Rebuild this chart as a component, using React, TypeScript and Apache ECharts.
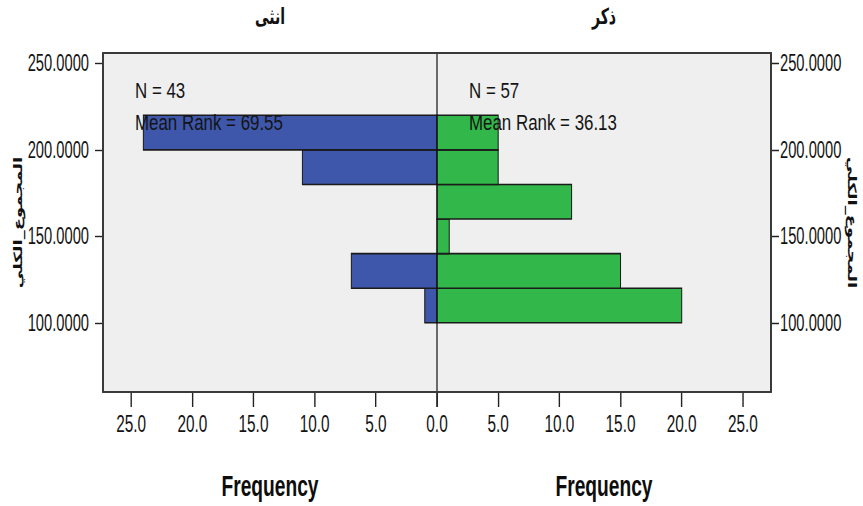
import React, { useEffect, useRef } from "react";
import * as echarts from "echarts";

// Bin lower/upper edges of المجموع_الكلي (width 20)
const binStarts = [100, 120, 140, 160, 180, 200];
const binEnds = [120, 140, 160, 180, 200, 220];
// Frequencies per bin
const femaleCounts = [1, 7, 0, 0, 11, 24]; // انثى (left)
const maleCounts = [20, 15, 1, 11, 5, 5]; // ذكر (right)

const groupTitles = ["انثى", "ذكر"];
const groupStats = [
  ["N = 43", "Mean Rank = 69.55"],
  ["N = 57", "Mean Rank = 36.13"],
];
const yTickValues = [100, 150, 200, 250];
const axisName = "المجموع_الكلي";
const xName = "Frequency";

// horizontal squeeze of the whole picture (narrow SPSS look)
const S = 0.64;
const W = 863;
const H = 506;
const IW = W / S;
const X = (px: number) => px / S;

const PLOT_L = 103;
const PLOT_MID = 437;
const PLOT_R = 771;
const PLOT_T = 53;
const PLOT_B = 392;

const BLUE = "#3e57aa";
const GREEN = "#32b74a";
const LAT = "'Liberation Sans', Arial, sans-serif";
const AR = "'DejaVu Sans', 'Noto Sans', sans-serif";
const INK = "#141414";

function makeData(counts: number[]) {
  return binStarts.map((s, i) => [s, binEnds[i], counts[i]]);
}

function renderBar(color: string) {
  return (params: any, api: any) => {
    const lo = api.value(0);
    const hi = api.value(1);
    const c = api.value(2);
    if (!c) return null;
    const p0 = api.coord([0, lo]);
    const p1 = api.coord([c, hi]);
    const x = Math.min(p0[0], p1[0]);
    const y = Math.min(p0[1], p1[1]);
    return {
      type: "rect",
      shape: { x, y, width: Math.abs(p1[0] - p0[0]), height: Math.abs(p1[1] - p0[1]) },
      style: { fill: color, stroke: "#1b1b1b", lineWidth: 1.6 },
    };
  };
}

export default function App() {
  const ref = useRef<HTMLDivElement>(null);
  useEffect(() => {
    if (!ref.current) return;
    const chart = echarts.init(ref.current, null, { renderer: "svg" });
    const plotH = PLOT_B - PLOT_T;
    const xLabel = {
      color: INK,
      fontFamily: LAT,
      fontSize: 24,
      margin: 20,
      formatter: (v: number) => v.toFixed(1),
    };
    const xBase = {
      type: "value",
      min: 0,
      max: 27.3,
      interval: 5,
      splitLine: { show: false },
      axisLine: { show: false, onZero: false },
      axisTick: { show: true, length: 15, lineStyle: { color: "#222", width: 1.4 / S } },
      name: xName,
      nameLocation: "middle",
      nameGap: 78,
      nameTextStyle: { fontFamily: LAT, fontSize: 30, fontWeight: "bold", color: "#0d0d0d" },
    };
    const yBase = {
      type: "value",
      min: 60,
      max: 256,
      splitLine: { show: false },
      axisLine: { show: false, onZero: false },
      axisTick: {
        show: true,
        length: X(8),
        customValues: yTickValues,
        lineStyle: { color: "#222", width: 1.4 },
      },
      axisLabel: {
        color: INK,
        fontFamily: LAT,
        fontSize: 23,
        customValues: yTickValues,
        formatter: (v: number) => v.toFixed(4),
      },
      name: axisName,
      nameLocation: "middle",
      nameTextStyle: { fontFamily: AR, fontSize: 18, fontWeight: "bold", color: "#111" },
    };
    const statText = (x: number, lines: string[]) =>
      lines.map((t, i) => ({
        type: "text",
        x: X(x),
        y: 79 + i * 32,
        scaleX: 1.2,
        z: 100,
        style: {
          text: t,
          fontFamily: LAT,
          fontSize: 22,
          fill: INK,
          verticalAlign: "top",
          align: "left",
        },
      }));
    const titleText = (cx: number, t: string) => ({
      type: "text",
      x: X(cx),
      y: 5,
      z: 100,
      style: {
        text: t,
        fontFamily: AR,
        fontSize: 22,
        fontWeight: "bold",
        fill: "#111",
        align: "center",
        verticalAlign: "top",
      },
    });
    const frameColor = "#3a3a3a";
    chart.setOption({
      animation: false,
      backgroundColor: "#ffffff",
      grid: [
        {
          left: X(PLOT_L),
          top: PLOT_T,
          width: X(PLOT_MID - PLOT_L),
          height: plotH,
          show: true,
          backgroundColor: "#efefef",
          borderWidth: 0,
        },
        {
          left: X(PLOT_MID),
          top: PLOT_T,
          width: X(PLOT_R - PLOT_MID),
          height: plotH,
          show: true,
          backgroundColor: "#efefef",
          borderWidth: 0,
        },
      ],
      xAxis: [
        { ...xBase, gridIndex: 0, inverse: true, axisLabel: { ...xLabel, showMaxLabel: false } },
        {
          ...xBase,
          gridIndex: 1,
          axisLabel: {
            ...xLabel,
            showMaxLabel: false,
            formatter: (v: number) => (v === 0 ? "" : v.toFixed(1)),
          },
        },
      ],
      yAxis: [
        {
          ...yBase,
          gridIndex: 0,
          position: "left",
          nameRotate: 90,
          nameGap: X(79),
          axisLabel: { ...yBase.axisLabel, margin: X(14) },
        },
        {
          ...yBase,
          gridIndex: 1,
          position: "right",
          nameRotate: -90,
          nameGap: X(75),
          axisLabel: { ...yBase.axisLabel, margin: X(9) },
        },
      ],
      series: [
        {
          type: "custom",
          xAxisIndex: 0,
          yAxisIndex: 0,
          renderItem: renderBar(BLUE),
          encode: { x: 2, y: [0, 1] },
          data: makeData(femaleCounts),
          z: 5,
        },
        {
          type: "custom",
          xAxisIndex: 1,
          yAxisIndex: 1,
          renderItem: renderBar(GREEN),
          encode: { x: 2, y: [0, 1] },
          data: makeData(maleCounts),
          z: 5,
        },
      ],
      graphic: [
        {
          type: "line",
          z: 50,
          shape: { x1: X(PLOT_MID), y1: PLOT_T, x2: X(PLOT_MID), y2: PLOT_B },
          style: { stroke: "#111", lineWidth: 1.2 / S },
        },
        {
          type: "line",
          z: 60,
          shape: { x1: X(PLOT_L) - 1.4, y1: PLOT_T, x2: X(PLOT_R) + 1.4, y2: PLOT_T },
          style: { stroke: frameColor, lineWidth: 2 },
        },
        {
          type: "line",
          z: 60,
          shape: { x1: X(PLOT_L) - 1.4, y1: PLOT_B, x2: X(PLOT_R) + 1.4, y2: PLOT_B },
          style: { stroke: frameColor, lineWidth: 2 },
        },
        {
          type: "line",
          z: 60,
          shape: { x1: X(PLOT_L), y1: PLOT_T, x2: X(PLOT_L), y2: PLOT_B },
          style: { stroke: frameColor, lineWidth: 2 / S },
        },
        {
          type: "line",
          z: 60,
          shape: { x1: X(PLOT_R), y1: PLOT_T, x2: X(PLOT_R), y2: PLOT_B },
          style: { stroke: frameColor, lineWidth: 2 / S },
        },
        titleText((PLOT_L + PLOT_MID) / 2, groupTitles[0]),
        titleText((PLOT_MID + PLOT_R) / 2, groupTitles[1]),
        ...statText(135, groupStats[0]),
        ...statText(469, groupStats[1]),
      ],
    });
    return () => chart.dispose();
  }, []);
  return (
    <div
      style={{
        position: "fixed",
        left: 0,
        top: 0,
        width: W,
        height: H,
        overflow: "hidden",
        background: "#fff",
      }}
    >
      <div
        ref={ref}
        style={{
          width: IW,
          height: H,
          transform: `scaleX(${S})`,
          transformOrigin: "0 0",
        }}
      />
    </div>
  );
}
